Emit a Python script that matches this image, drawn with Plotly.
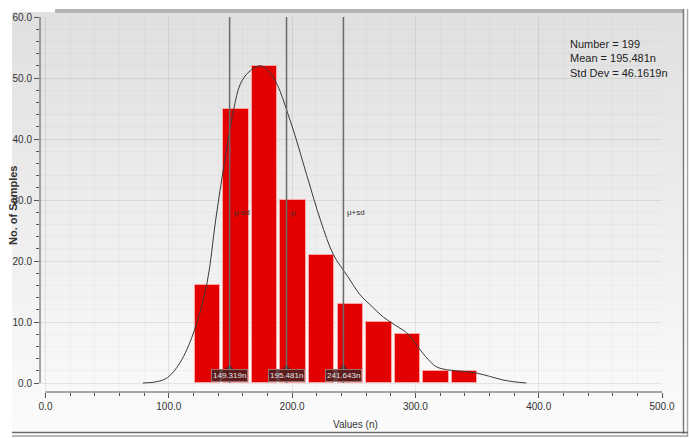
import plotly.graph_objects as go

# ---------------- data ----------------
bin_centers = [131.2, 154.4, 177.6, 200.8, 224.0, 247.2, 270.4, 293.6, 316.8, 340.0]
counts = [16, 45, 52, 30, 21, 13, 10, 8, 2, 2]

curve_x = [79, 90, 99, 109, 120, 131, 138, 145, 152.6, 158, 165, 175, 185, 198.5,
           212, 223, 233.6, 245, 255, 265, 274, 285, 293, 304, 312, 317.6, 328,
           340, 350, 360, 371, 380, 390]
curve_y = [0, 0.2, 0.9, 3.3, 8.2, 16.4, 26.7, 36, 44.8, 49, 51, 52, 50, 43,
           34, 26.7, 21, 17.5, 14.5, 12.5, 10.8, 9.3, 8.2, 5.4, 3.5, 2.6, 2.1,
           1.9, 1.6, 1.1, 0.5, 0.2, 0]

marker_values = [149.319, 195.481, 241.643]
marker_names = ["μ-sd", "μ", "μ+sd"]
marker_labels = ["149.319n", "195.481n", "241.643n"]

stats_lines = ["Number = 199", "Mean = 195.481n", "Std Dev = 46.1619n"]

x_ticks = [0, 100, 200, 300, 400, 500]
x_ticktext = ["0.0", "100.0", "200.0", "300.0", "400.0", "500.0"]
y_ticks = [0, 10, 20, 30, 40, 50, 60]
y_ticktext = ["0.0", "10.0", "20.0", "30.0", "40.0", "50.0", "60.0"]

# ---------------- layout geometry (pixels) ----------------
W, H = 689, 438
L, R, T, B = 40, 27, 17, 46
PW = W - L - R
PH = H - T - B


def px_x(p):
    return (p - L) / PW


def px_y(p):
    return (H - B - p) / PH


FONT = "Liberation Sans, Arial, sans-serif"

fig = go.Figure()

fig.add_trace(go.Bar(
    x=bin_centers, y=counts, width=20.7,
    marker=dict(color="#e30000", line=dict(color="rgba(255,170,170,0.9)", width=1)),
    showlegend=False, hoverinfo="x+y",
))

fig.add_trace(go.Scatter(
    x=curve_x, y=curve_y, mode="lines",
    line=dict(color="#3a3a3a", width=1, shape="spline", smoothing=1.0),
    showlegend=False,
))

fig.add_trace(go.Scatter(
    x=marker_values, y=[2.5] * len(marker_values), mode="markers",
    marker=dict(symbol="triangle-up", size=7, color="#4a2626"),
    showlegend=False, hoverinfo="skip",
))

shapes = []
# panel gradient background
top_px, bot_px = 12, 432
n = 28
c0, c1 = 0xE0, 0xFB
for i in range(n):
    y0p = top_px + (bot_px - top_px) * i / n
    y1p = top_px + (bot_px - top_px) * (i + 1) / n
    c = int(round(c0 + (c1 - c0) * i / (n - 1)))
    col = f"rgb({c},{c},{c})"
    shapes.append(dict(type="rect", xref="paper", yref="paper",
                       x0=px_x(12), x1=px_x(683), y0=px_y(y1p), y1=px_y(y0p),
                       fillcolor=col, line=dict(width=0), layer="below"))
# window-like borders
shapes.append(dict(type="rect", xref="paper", yref="paper",
                   x0=px_x(55), x1=px_x(684), y0=px_y(13), y1=px_y(9),
                   fillcolor="#b4b4b4", line=dict(width=0), layer="below"))
shapes.append(dict(type="line", xref="paper", yref="paper",
                   x0=px_x(683.5), x1=px_x(683.5), y0=px_y(9), y1=px_y(434),
                   line=dict(color="#7a7a7a", width=1.5)))
shapes.append(dict(type="line", xref="paper", yref="paper",
                   x0=px_x(687.5), x1=px_x(687.5), y0=px_y(9), y1=px_y(437),
                   line=dict(color="#a8a8a8", width=1.5)))
shapes.append(dict(type="line", xref="paper", yref="paper",
                   x0=px_x(12), x1=px_x(688), y0=px_y(432.5), y1=px_y(432.5),
                   line=dict(color="#6a6a6a", width=1.5)))
shapes.append(dict(type="line", xref="paper", yref="paper",
                   x0=px_x(12), x1=px_x(688), y0=px_y(436), y1=px_y(436),
                   line=dict(color="#a0a0a0", width=1.5)))
# axis lines
shapes.append(dict(type="line", xref="x", yref="paper",
                   x0=0, x1=500, y0=0, y1=0, line=dict(color="#555", width=1)))
shapes.append(dict(type="line", xref="paper", yref="y",
                   x0=0, x1=0, y0=0, y1=60, line=dict(color="#555", width=1)))
# statistic lines
for v in marker_values:
    shapes.append(dict(type="line", xref="x", yref="y", x0=v, x1=v, y0=0, y1=60.3,
                       line=dict(color="#6a6a6a", width=1.5), layer="above"))

annotations = []
for v, nm, lab in zip(marker_values, marker_names, marker_labels):
    annotations.append(dict(x=v, y=27.9, xref="x", yref="y", text=nm,
                            xanchor="left", xshift=2, showarrow=False,
                            font=dict(family=FONT, size=8, color="#333")))
    annotations.append(dict(x=v, y=1.2, xref="x", yref="y", text=lab,
                            xanchor="center", yanchor="middle", showarrow=False,
                            bgcolor="rgba(70,32,32,0.85)", bordercolor="#9a7070",
                            borderwidth=1, borderpad=1,
                            font=dict(family=FONT, size=8, color="#e6e6e6")))

annotations.append(dict(x=px_x(568), y=px_y(36), xref="paper", yref="paper",
                        text="<br>".join(stats_lines), align="left",
                        xanchor="left", yanchor="top", showarrow=False,
                        font=dict(family=FONT, size=11, color="#222")))
annotations.append(dict(x=px_x(355), y=px_y(424), xref="paper", yref="paper",
                        text="Values (n)", xanchor="center", yanchor="middle",
                        showarrow=False, font=dict(family=FONT, size=10, color="#333")))
annotations.append(dict(x=px_x(13), y=px_y(205), xref="paper", yref="paper",
                        text="<b>No. of Samples</b>", textangle=-90,
                        xanchor="center", yanchor="middle", showarrow=False,
                        font=dict(family=FONT, size=11, color="#333")))

fig.update_layout(
    width=W, height=H, autosize=False,
    margin=dict(l=L, r=R, t=T, b=B, pad=0),
    paper_bgcolor="white", plot_bgcolor="rgba(0,0,0,0)",
    shapes=shapes, annotations=annotations, bargap=0,
    xaxis=dict(range=[-4.46, 500], tickvals=x_ticks, ticktext=x_ticktext,
               ticks="outside", ticklen=5, tickcolor="#555", showline=False,
               zeroline=False, showgrid=True, gridcolor="rgba(0,0,0,0.055)",
               tickfont=dict(family=FONT, size=10, color="#333"),
               minor=dict(tick0=0, dtick=20, ticks="outside", ticklen=3,
                          tickcolor="#555", showgrid=True,
                          gridcolor="rgba(0,0,0,0.025)")),
    yaxis=dict(range=[-1.475, 60], tickvals=y_ticks, ticktext=y_ticktext,
               ticks="outside", ticklen=5, tickcolor="#555", showline=False,
               zeroline=False, showgrid=True, gridcolor="rgba(0,0,0,0.055)",
               tickfont=dict(family=FONT, size=10, color="#333"),
               minor=dict(tick0=0, dtick=2, ticks="outside", ticklen=3,
                          tickcolor="#555", showgrid=True,
                          gridcolor="rgba(0,0,0,0.025)")),
)

fig.write_html("out.html")
